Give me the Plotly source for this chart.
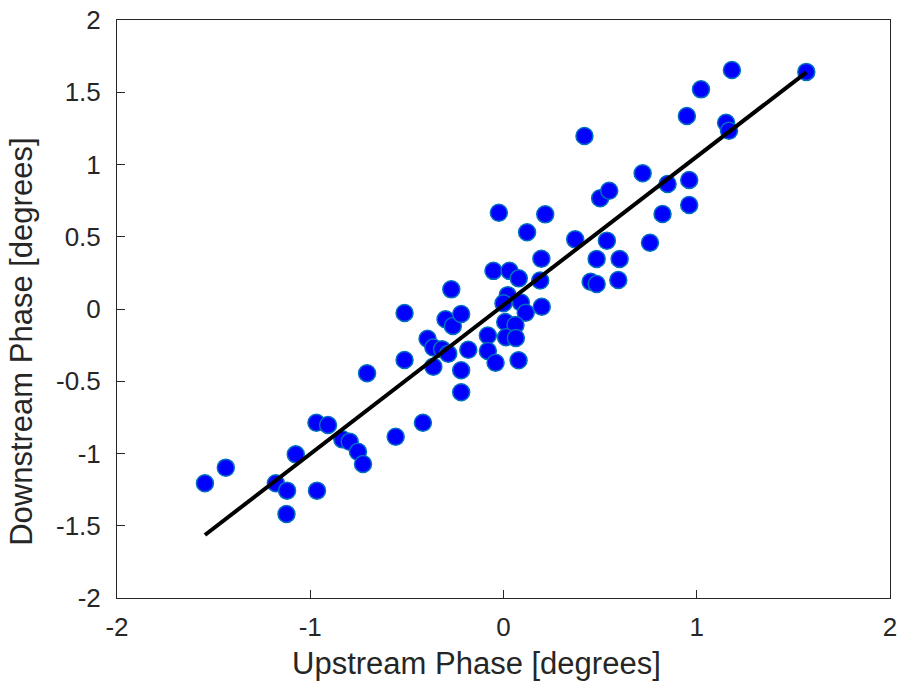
import plotly.graph_objects as go

upstream = [-1.545, -1.437, -1.178, -1.120, -1.123, -1.075, -0.965, -0.968, -0.908, -0.834,
            -0.796, -0.753, -0.727, -0.558, -0.417, -0.706, -0.512, -0.512, -0.393, -0.363,
            -0.318, -0.286, -0.363, -0.300, -0.262, -0.219, -0.270, -0.182, -0.219, -0.219,
            -0.081, -0.081, -0.041, -0.052, 0.031, 0.079, 0.190, 0.196, 0.022, 0.000,
            0.090, 0.115, 0.198, 0.009, 0.062, 0.013, 0.064, 0.078, -0.024, 0.216,
            0.122, 0.371, 0.535, 0.758, 0.482, 0.601, 0.451, 0.482, 0.594, 0.500,
            0.547, 0.823, 0.961, 0.720, 0.849, 0.961, 0.419, 0.949, 1.152, 1.167,
            1.022, 1.182, 1.567]
downstream = [-1.206, -1.098, -1.206, -1.257, -1.419, -1.006, -1.257, -0.787, -0.803, -0.902,
              -0.918, -0.988, -1.073, -0.884, -0.787, -0.445, -0.028, -0.353, -0.206, -0.266,
              -0.278, -0.309, -0.399, -0.071, -0.118, -0.035, 0.136, -0.282, -0.424, -0.576,
              -0.183, -0.291, -0.372, 0.264, 0.264, 0.212, 0.197, 0.348, 0.096, 0.040,
              0.045, -0.026, 0.016, -0.090, -0.111, -0.195, -0.201, -0.355, 0.666, 0.655,
              0.531, 0.482, 0.473, 0.459, 0.346, 0.346, 0.189, 0.173, 0.201, 0.766,
              0.818, 0.657, 0.720, 0.939, 0.865, 0.893, 1.197, 1.336, 1.289, 1.234,
              1.520, 1.654, 1.641]

fit_x = [-1.545, 1.567]
fit_y = [-1.564, 1.638]

xtick_vals = [-2, -1, 0, 1, 2]
xtick_text = ["-2", "-1", "0", "1", "2"]
ytick_vals = [-2, -1.5, -1, -0.5, 0, 0.5, 1, 1.5, 2]
ytick_text = ["-2", "-1.5", "-1", "-0.5", "0", "0.5", "1", "1.5", "2"]

x_title = "Upstream Phase [degrees]"
y_title = "Downstream Phase [degrees]"

FONT = "Liberation Sans, Arial, sans-serif"
TXT = "#262626"

fig = go.Figure()
fig.add_trace(go.Scatter(
    x=upstream, y=downstream, mode="markers",
    marker=dict(size=17, color="#0000ff", line=dict(color="#0072bd", width=1.5)),
    showlegend=False, hoverinfo="skip"))
fig.add_trace(go.Scatter(
    x=fit_x, y=fit_y, mode="lines",
    line=dict(color="black", width=4),
    showlegend=False, hoverinfo="skip"))

axis_common = dict(
    showgrid=False, zeroline=False, showline=True, mirror=True, automargin=False,
    linecolor=TXT, linewidth=1, ticks="inside", ticklen=8, tickwidth=1,
    tickcolor=TXT, ticklabeloverflow="allow",
    tickfont=dict(family=FONT, size=26, color=TXT),
)

fig.update_layout(
    width=898, height=686,
    margin=dict(l=117, r=8, t=20, b=88),
    paper_bgcolor="white", plot_bgcolor="white",
    font=dict(family=FONT, color=TXT),
    xaxis=dict(range=[-2, 2], tickvals=xtick_vals, ticktext=xtick_text,
               ticklabelstandoff=6, **axis_common),
    yaxis=dict(range=[-2, 2], tickvals=ytick_vals, ticktext=ytick_text,
               ticklabelstandoff=10, **axis_common),
    annotations=[
        dict(text=x_title, xref="paper", yref="paper", x=0.4657, y=-0.114,
             xanchor="center", yanchor="middle", showarrow=False,
             font=dict(family=FONT, size=31, color=TXT)),
        dict(text=y_title, xref="paper", yref="paper", x=-0.123, y=0.443,
             xanchor="center", yanchor="middle", showarrow=False, textangle=-90,
             font=dict(family=FONT, size=31, color=TXT)),
    ],
)

fig.write_html("out.html", config={"displayModeBar": False},
               post_script="document.body.style.margin='0';document.body.style.overflow='hidden';")
